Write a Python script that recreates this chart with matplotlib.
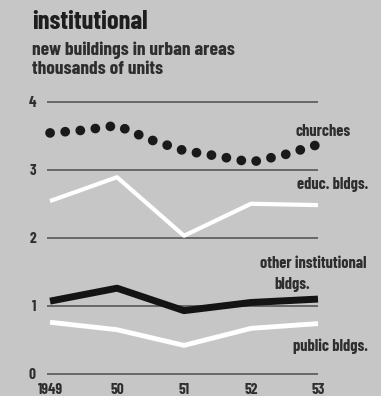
import matplotlib.pyplot as plt

# values (thousands of units)
years = [1949, 1950, 1951, 1952, 1953]
year_labels = ["1949", "50", "51", "52", "53"]
educ = [2.54, 2.89, 2.03, 2.50, 2.48]
other_inst = [1.07, 1.26, 0.93, 1.05, 1.10]
public = [0.76, 0.65, 0.42, 0.67, 0.74]
# churches curve read at half-year steps
church_x = [1949, 1949.5, 1950, 1950.5, 1951, 1951.5, 1952, 1952.5, 1953]
churches = [3.54, 3.58, 3.65, 3.44, 3.28, 3.20, 3.11, 3.22, 3.37]
yticks = [0, 1, 2, 3, 4]

BG = "#c6c6c6"
INK = "#2e2e2e"
FONT = ["Barlow Condensed", "Liberation Sans Narrow", "DejaVu Sans"]

fig = plt.figure(figsize=(3.81, 3.96), dpi=100, facecolor=BG)
ax = fig.add_axes([0.1234, 0.047, 0.7112, 0.705])
ax.set_facecolor(BG)
ax.set_xlim(1948.955, 1953)
ax.set_ylim(-0.05, 4.05)
for s in ax.spines.values():
    s.set_visible(False)

ax.set_yticks(yticks)
ax.set_yticklabels([str(v) for v in yticks], family=FONT, weight="bold",
                   fontsize=11, color=INK)
ax.set_xticks(years)
ax.set_xticklabels(year_labels, family=FONT, weight="bold", fontsize=11, color=INK)
ax.tick_params(length=0)
ax.tick_params(axis="y", pad=8)
ax.tick_params(axis="x", pad=4)
ax.grid(axis="y", color="#5f5f5f", linewidth=1.3)
ax.grid(axis="x", visible=False)
ax.set_axisbelow(True)

ax.plot(years, educ, color="white", lw=3, solid_capstyle="butt", clip_on=False)
ax.plot(years, public, color="white", lw=3.5, solid_capstyle="butt", clip_on=False)
ax.plot(years, other_inst, color="#141414", lw=5, solid_capstyle="butt",
        solid_joinstyle="round", clip_on=False)
ax.plot(church_x, churches, color="#1a1a1a", lw=7, linestyle=(0, (0.01, 1.55)),
        dash_capstyle="round", clip_on=False)

lab = dict(family=FONT, weight="bold", fontsize=11.8, color=INK)
fig.text(351 / 381, 1 - 131 / 396, "churches", ha="right", va="center", **lab)
fig.text(368 / 381, 1 - 184 / 396, "educ. bldgs.", ha="right", va="center", **lab)
fig.text(367 / 381, 1 - 263 / 396, "other institutional", ha="right", va="center", **lab)
fig.text(292 / 381, 1 - 284 / 396, "bldgs.", ha="center", va="center", **lab)
fig.text(368 / 381, 1 - 346 / 396, "public bldgs.", ha="right", va="center", **lab)

fig.text(32 / 381, 1 - 22 / 396, "institutional", family=FONT, weight="bold",
         fontsize=19, color="#1e1e1e", va="center", ha="left")
fig.text(32 / 381, 1 - 50 / 396, "new buildings in urban areas", family=FONT,
         weight="bold", fontsize=14, color=INK, va="center", ha="left")
fig.text(32 / 381, 1 - 70 / 396, "thousands of units", family=FONT,
         weight="bold", fontsize=14, color=INK, va="center", ha="left")

fig.savefig("out.png", dpi=100, facecolor=BG)
